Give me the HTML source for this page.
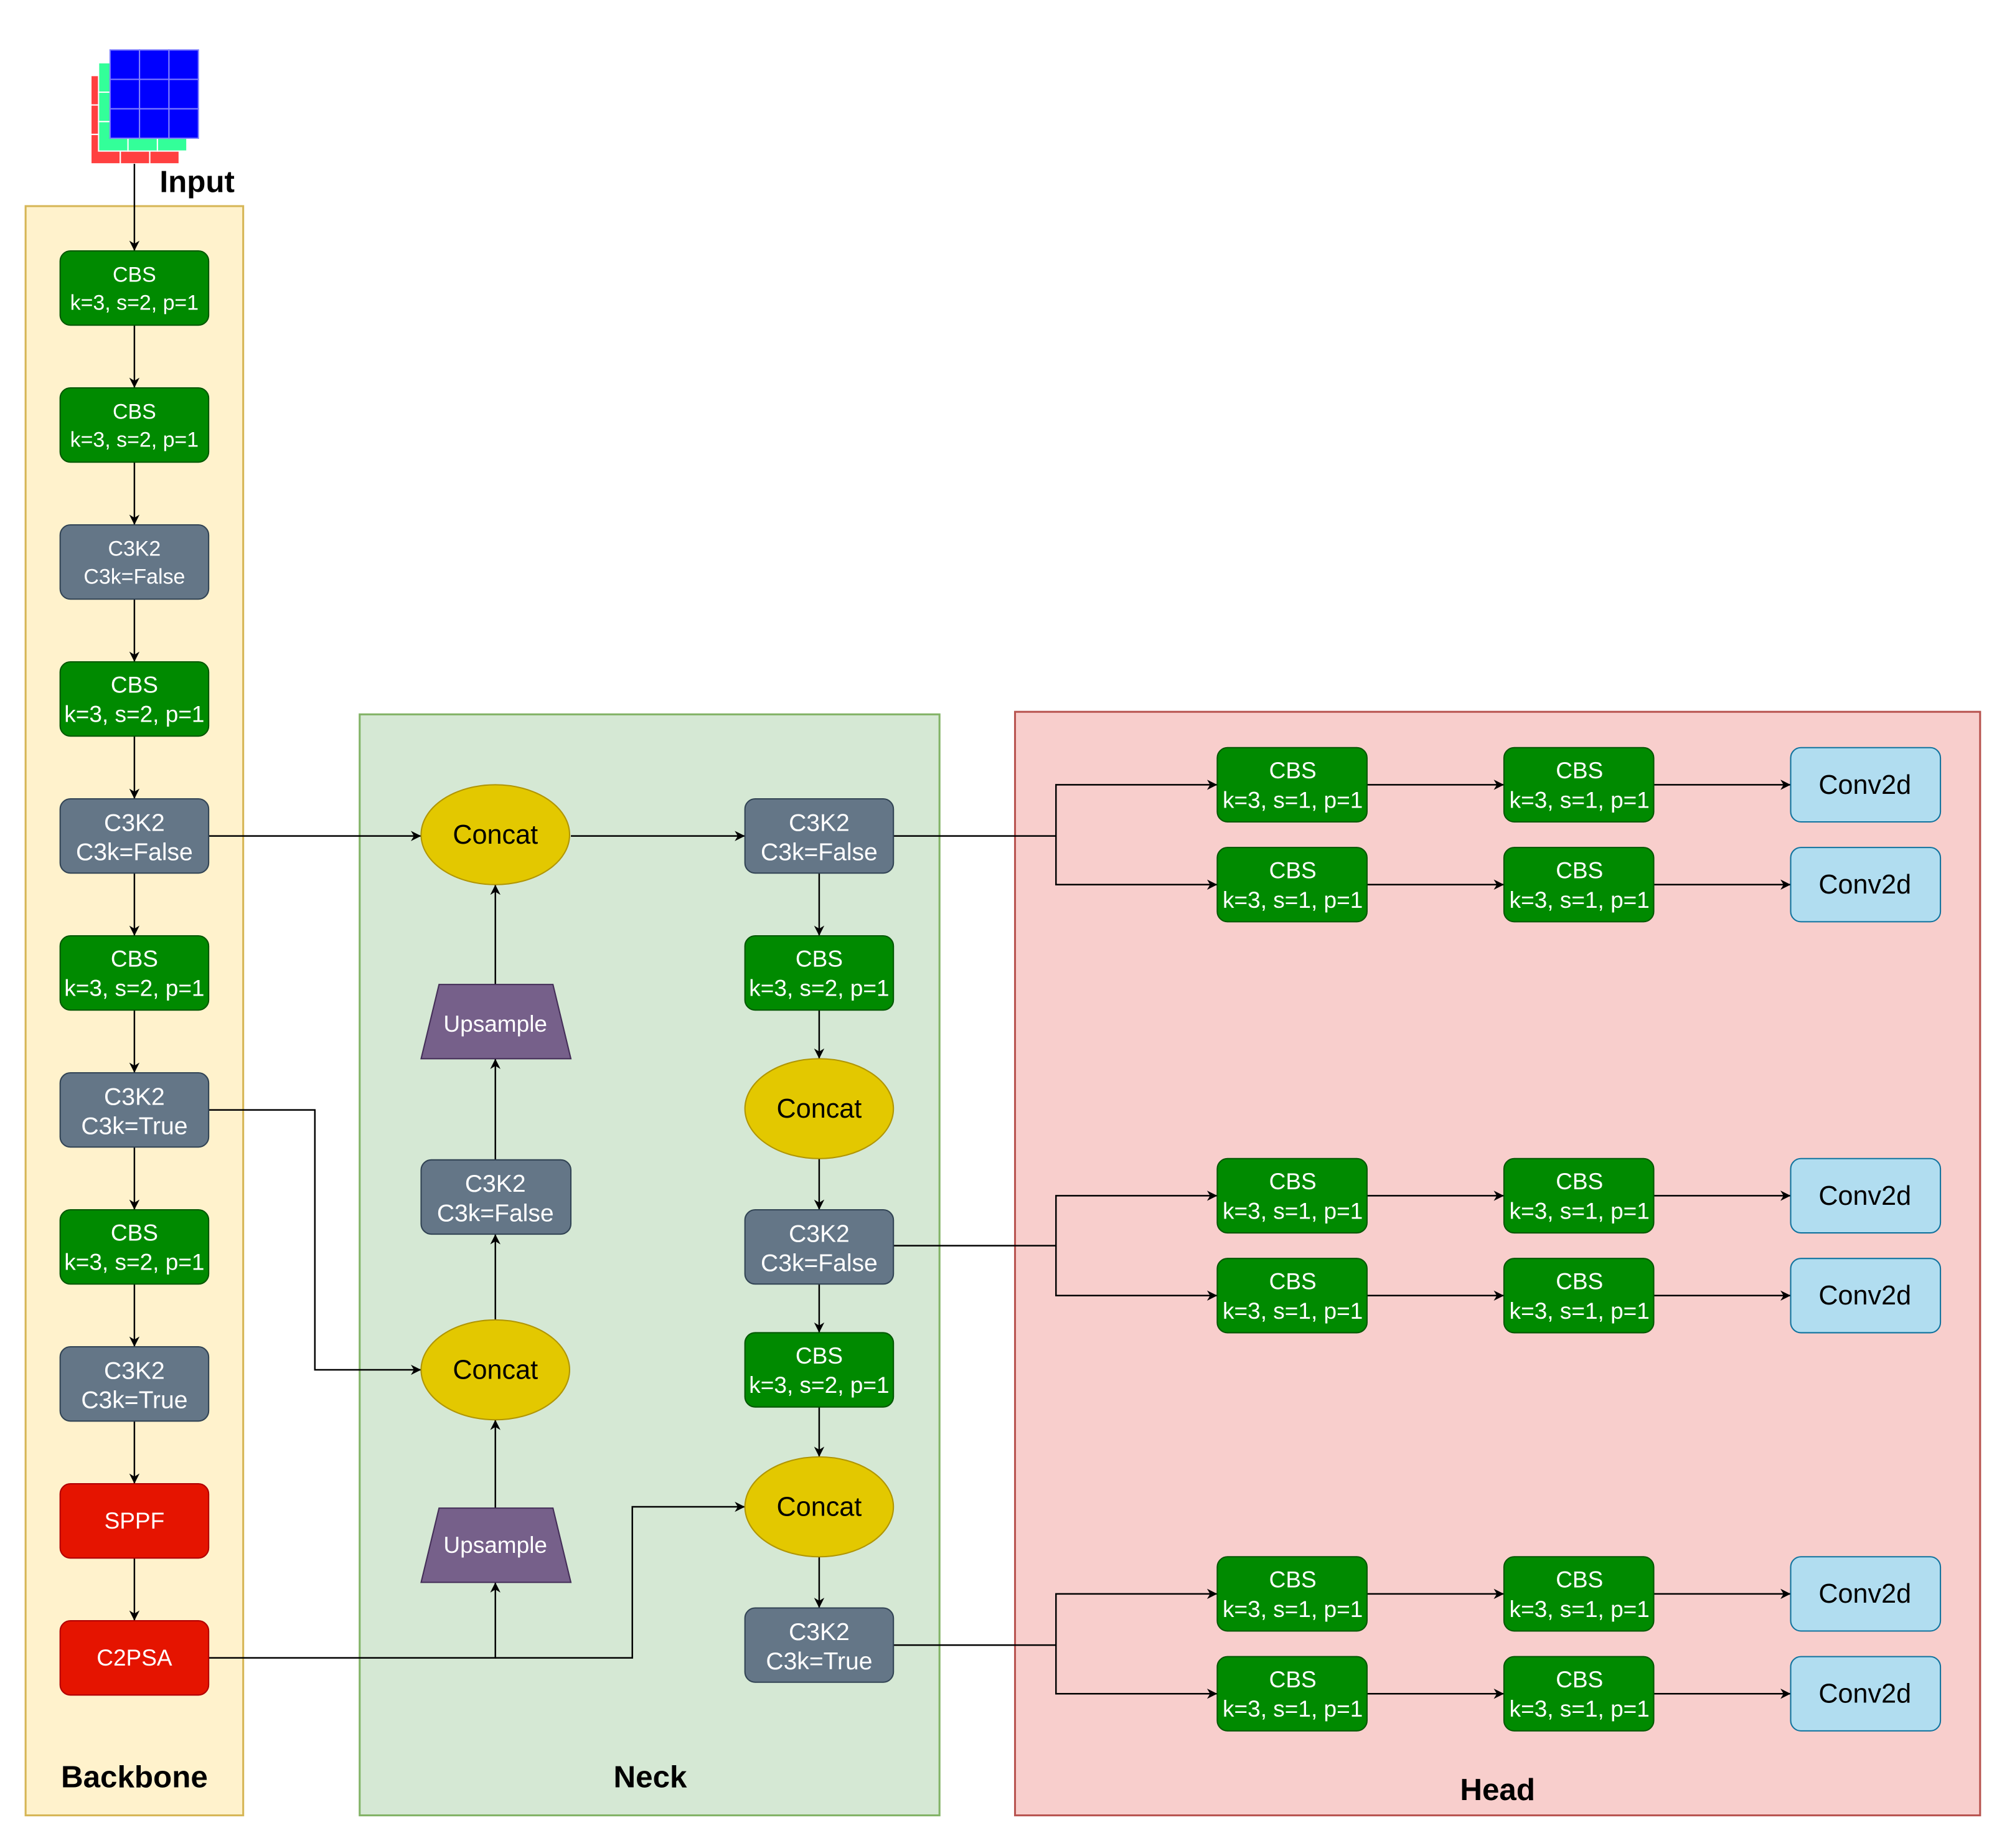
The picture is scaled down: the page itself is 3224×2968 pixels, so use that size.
<!DOCTYPE html>
<html><head><meta charset="utf-8"><style>html,body{margin:0;padding:0;background:#fff}svg{display:block}</style></head>
<body>
<svg width="3224" height="2968" viewBox="0 0 1568 1443.5" preserveAspectRatio="none" xmlns="http://www.w3.org/2000/svg" font-family="'Liberation Sans', sans-serif">
<defs>
<marker id="a" viewBox="0 0 10 10" refX="10" refY="5" markerWidth="8" markerHeight="8" markerUnits="userSpaceOnUse" orient="auto"><path d="M0,0 L10,5 L0,10 L3,5 z" fill="#000"/></marker>
<g id="grid">
</g>
</defs>
<!-- panels -->
<rect x="20" y="161" width="170" height="1257" fill="#fff2cc" stroke="#d6b656" stroke-width="1.5"/>
<rect x="281" y="558" width="453" height="860" fill="#d5e8d4" stroke="#82b366" stroke-width="1.5"/>
<rect x="793" y="556" width="754" height="862" fill="#f8cecc" stroke="#b85450" stroke-width="1.5"/>
<g font-weight="bold" font-size="24" text-anchor="middle" fill="#000">
<text x="105" y="1396">Backbone</text>
<text x="508" y="1396">Neck</text>
<text x="1170" y="1406">Head</text>
<text x="154" y="150">Input</text>
</g>
<!-- input image -->
<g stroke="#fff" stroke-width="1">
<g fill="#ff4040">
<rect x="71" y="59" width="23" height="23"/><rect x="94" y="59" width="23" height="23"/><rect x="117" y="59" width="23" height="23"/>
<rect x="71" y="82" width="23" height="23"/><rect x="94" y="82" width="23" height="23"/><rect x="117" y="82" width="23" height="23"/>
<rect x="71" y="105" width="23" height="23"/><rect x="94" y="105" width="23" height="23"/><rect x="117" y="105" width="23" height="23"/>
</g>
<g fill="#33ff99">
<rect x="77" y="49" width="23" height="23"/><rect x="100" y="49" width="23" height="23"/><rect x="123" y="49" width="23" height="23"/>
<rect x="77" y="72" width="23" height="23"/><rect x="100" y="72" width="23" height="23"/><rect x="123" y="72" width="23" height="23"/>
<rect x="77" y="95" width="23" height="23"/><rect x="100" y="95" width="23" height="23"/><rect x="123" y="95" width="23" height="23"/>
</g>
<g fill="#0000ff" stroke="#8080ff">
<rect x="86" y="39" width="23" height="23"/><rect x="109" y="39" width="23" height="23"/><rect x="132" y="39" width="23" height="23"/>
<rect x="86" y="62" width="23" height="23"/><rect x="109" y="62" width="23" height="23"/><rect x="132" y="62" width="23" height="23"/>
<rect x="86" y="85" width="23" height="23"/><rect x="109" y="85" width="23" height="23"/><rect x="132" y="85" width="23" height="23"/>
</g>
</g>
<!-- connectors -->
<g stroke="#000" stroke-width="1.2" fill="none" marker-end="url(#a)">
<line x1="105" y1="128" x2="105" y2="196"/>
<line x1="105" y1="254" x2="105" y2="303"/>
<line x1="105" y1="361" x2="105" y2="410"/>
<line x1="105" y1="468" x2="105" y2="517"/>
<line x1="105" y1="575" x2="105" y2="624"/>
<line x1="105" y1="682" x2="105" y2="731"/>
<line x1="105" y1="789" x2="105" y2="838"/>
<line x1="105" y1="896" x2="105" y2="945"/>
<line x1="105" y1="1003" x2="105" y2="1052"/>
<line x1="105" y1="1110" x2="105" y2="1159"/>
<line x1="105" y1="1217" x2="105" y2="1266"/>
<line x1="163" y1="653" x2="329" y2="653"/>
<line x1="446" y1="653" x2="582" y2="653"/>
<polyline points="163,867 246,867 246,1070 329,1070"/>
<polyline points="163,1295 387,1295 387,1236"/>
<polyline points="387,1295 494,1295 494,1177 582,1177"/>
<line x1="387" y1="1178" x2="387" y2="1109"/>
<line x1="387" y1="1031" x2="387" y2="964"/>
<line x1="387" y1="906" x2="387" y2="827"/>
<line x1="387" y1="769" x2="387" y2="691"/>
<line x1="640" y1="682" x2="640" y2="731"/>
<line x1="640" y1="789" x2="640" y2="827"/>
<line x1="640" y1="905" x2="640" y2="945"/>
<line x1="640" y1="1003" x2="640" y2="1041"/>
<line x1="640" y1="1099" x2="640" y2="1138"/>
<line x1="640" y1="1216" x2="640" y2="1256"/>
<polyline points="698,653 825,653 825,613 951,613"/>
<polyline points="825,653 825,691 951,691"/>
<polyline points="698,973 825,973 825,934 951,934"/>
<polyline points="825,973 825,1012 951,1012"/>
<polyline points="698,1285 825,1285 825,1245 951,1245"/>
<polyline points="825,1285 825,1323 951,1323"/>
<line x1="1068" y1="613" x2="1175" y2="613"/><line x1="1292" y1="613" x2="1399" y2="613"/>
<line x1="1068" y1="691" x2="1175" y2="691"/><line x1="1292" y1="691" x2="1399" y2="691"/>
<line x1="1068" y1="934" x2="1175" y2="934"/><line x1="1292" y1="934" x2="1399" y2="934"/>
<line x1="1068" y1="1012" x2="1175" y2="1012"/><line x1="1292" y1="1012" x2="1399" y2="1012"/>
<line x1="1068" y1="1245" x2="1175" y2="1245"/><line x1="1292" y1="1245" x2="1399" y2="1245"/>
<line x1="1068" y1="1323" x2="1175" y2="1323"/><line x1="1292" y1="1323" x2="1399" y2="1323"/>
</g>
<!-- backbone nodes -->
<g font-size="16.5" text-anchor="middle" fill="#fff">
<g><rect x="47" y="196" width="116" height="58" rx="8" fill="#008a00" stroke="#005700"/><text x="105" y="220">CBS</text><text x="105" y="242">k=3, s=2, p=1</text></g>
<g><rect x="47" y="303" width="116" height="58" rx="8" fill="#008a00" stroke="#005700"/><text x="105" y="327">CBS</text><text x="105" y="349">k=3, s=2, p=1</text></g>
<g><rect x="47" y="410" width="116" height="58" rx="8" fill="#647687" stroke="#314354"/><text x="105" y="434">C3K2</text><text x="105" y="456">C3k=False</text></g>
<g><rect x="47" y="517" width="116" height="58" rx="8" fill="#008a00" stroke="#005700"/><text x="105" y="541" font-size="18">CBS</text><text x="105" y="564" font-size="18">k=3, s=2, p=1</text></g>
<g font-size="19"><rect x="47" y="624" width="116" height="58" rx="8" fill="#647687" stroke="#314354"/><text x="105" y="649">C3K2</text><text x="105" y="672">C3k=False</text></g>
<g font-size="18"><rect x="47" y="731" width="116" height="58" rx="8" fill="#008a00" stroke="#005700"/><text x="105" y="755">CBS</text><text x="105" y="778">k=3, s=2, p=1</text></g>
<g font-size="19"><rect x="47" y="838" width="116" height="58" rx="8" fill="#647687" stroke="#314354"/><text x="105" y="863">C3K2</text><text x="105" y="886">C3k=True</text></g>
<g font-size="18"><rect x="47" y="945" width="116" height="58" rx="8" fill="#008a00" stroke="#005700"/><text x="105" y="969">CBS</text><text x="105" y="992">k=3, s=2, p=1</text></g>
<g font-size="19"><rect x="47" y="1052" width="116" height="58" rx="8" fill="#647687" stroke="#314354"/><text x="105" y="1077">C3K2</text><text x="105" y="1100">C3k=True</text></g>
<g font-size="18"><rect x="47" y="1159" width="116" height="58" rx="8" fill="#e51400" stroke="#b20000"/><text x="105" y="1194">SPPF</text></g>
<g font-size="18"><rect x="47" y="1266" width="116" height="58" rx="8" fill="#e51400" stroke="#b20000"/><text x="105" y="1301">C2PSA</text></g>
</g>
<!-- neck nodes -->
<g font-size="19" text-anchor="middle">
<ellipse cx="387" cy="652" rx="58" ry="39" fill="#e3c800" stroke="#b09500"/><text x="387" y="659" font-size="21">Concat</text>
<ellipse cx="387" cy="1070" rx="58" ry="39" fill="#e3c800" stroke="#b09500"/><text x="387" y="1077" font-size="21">Concat</text>
<ellipse cx="640" cy="866" rx="58" ry="39" fill="#e3c800" stroke="#b09500"/><text x="640" y="873" font-size="21">Concat</text>
<ellipse cx="640" cy="1177" rx="58" ry="39" fill="#e3c800" stroke="#b09500"/><text x="640" y="1184" font-size="21">Concat</text>
<g fill="#fff">
<polygon points="343,769 432,769 446,827 329,827" fill="#76608a" stroke="#432d57"/><text x="387" y="806" font-size="18">Upsample</text>
<polygon points="343,1178 432,1178 446,1236 329,1236" fill="#76608a" stroke="#432d57"/><text x="387" y="1213" font-size="18">Upsample</text>
<rect x="329" y="906" width="117" height="58" rx="8" fill="#647687" stroke="#314354"/><text x="387" y="931">C3K2</text><text x="387" y="954">C3k=False</text>
<rect x="582" y="624" width="116" height="58" rx="8" fill="#647687" stroke="#314354"/><text x="640" y="649">C3K2</text><text x="640" y="672">C3k=False</text>
<rect x="582" y="731" width="116" height="58" rx="8" fill="#008a00" stroke="#005700"/><text x="640" y="755" font-size="18">CBS</text><text x="640" y="778" font-size="18">k=3, s=2, p=1</text>
<rect x="582" y="945" width="116" height="58" rx="8" fill="#647687" stroke="#314354"/><text x="640" y="970">C3K2</text><text x="640" y="993">C3k=False</text>
<rect x="582" y="1041" width="116" height="58" rx="8" fill="#008a00" stroke="#005700"/><text x="640" y="1065" font-size="18">CBS</text><text x="640" y="1088" font-size="18">k=3, s=2, p=1</text>
<rect x="582" y="1256" width="116" height="58" rx="8" fill="#647687" stroke="#314354"/><text x="640" y="1281">C3K2</text><text x="640" y="1304">C3k=True</text>
</g>
</g>
<!-- head nodes -->
<g font-size="18" text-anchor="middle">
<g fill="#fff">
<rect x="951" y="584" width="117" height="58" rx="8" fill="#008a00" stroke="#005700"/><text x="1010" y="608">CBS</text><text x="1010" y="631">k=3, s=1, p=1</text>
<rect x="1175" y="584" width="117" height="58" rx="8" fill="#008a00" stroke="#005700"/><text x="1234" y="608">CBS</text><text x="1234" y="631">k=3, s=1, p=1</text>
<rect x="951" y="662" width="117" height="58" rx="8" fill="#008a00" stroke="#005700"/><text x="1010" y="686">CBS</text><text x="1010" y="709">k=3, s=1, p=1</text>
<rect x="1175" y="662" width="117" height="58" rx="8" fill="#008a00" stroke="#005700"/><text x="1234" y="686">CBS</text><text x="1234" y="709">k=3, s=1, p=1</text>
<rect x="951" y="905" width="117" height="58" rx="8" fill="#008a00" stroke="#005700"/><text x="1010" y="929">CBS</text><text x="1010" y="952">k=3, s=1, p=1</text>
<rect x="1175" y="905" width="117" height="58" rx="8" fill="#008a00" stroke="#005700"/><text x="1234" y="929">CBS</text><text x="1234" y="952">k=3, s=1, p=1</text>
<rect x="951" y="983" width="117" height="58" rx="8" fill="#008a00" stroke="#005700"/><text x="1010" y="1007">CBS</text><text x="1010" y="1030">k=3, s=1, p=1</text>
<rect x="1175" y="983" width="117" height="58" rx="8" fill="#008a00" stroke="#005700"/><text x="1234" y="1007">CBS</text><text x="1234" y="1030">k=3, s=1, p=1</text>
<rect x="951" y="1216" width="117" height="58" rx="8" fill="#008a00" stroke="#005700"/><text x="1010" y="1240">CBS</text><text x="1010" y="1263">k=3, s=1, p=1</text>
<rect x="1175" y="1216" width="117" height="58" rx="8" fill="#008a00" stroke="#005700"/><text x="1234" y="1240">CBS</text><text x="1234" y="1263">k=3, s=1, p=1</text>
<rect x="951" y="1294" width="117" height="58" rx="8" fill="#008a00" stroke="#005700"/><text x="1010" y="1318">CBS</text><text x="1010" y="1341">k=3, s=1, p=1</text>
<rect x="1175" y="1294" width="117" height="58" rx="8" fill="#008a00" stroke="#005700"/><text x="1234" y="1318">CBS</text><text x="1234" y="1341">k=3, s=1, p=1</text>
</g>
<g font-size="21" fill="#000">
<rect x="1399" y="584" width="117" height="58" rx="8" fill="#b1ddf0" stroke="#10739e"/><text x="1457" y="620">Conv2d</text>
<rect x="1399" y="662" width="117" height="58" rx="8" fill="#b1ddf0" stroke="#10739e"/><text x="1457" y="698">Conv2d</text>
<rect x="1399" y="905" width="117" height="58" rx="8" fill="#b1ddf0" stroke="#10739e"/><text x="1457" y="941">Conv2d</text>
<rect x="1399" y="983" width="117" height="58" rx="8" fill="#b1ddf0" stroke="#10739e"/><text x="1457" y="1019">Conv2d</text>
<rect x="1399" y="1216" width="117" height="58" rx="8" fill="#b1ddf0" stroke="#10739e"/><text x="1457" y="1252">Conv2d</text>
<rect x="1399" y="1294" width="117" height="58" rx="8" fill="#b1ddf0" stroke="#10739e"/><text x="1457" y="1330">Conv2d</text>
</g>
</g>
</svg>
</body></html>
